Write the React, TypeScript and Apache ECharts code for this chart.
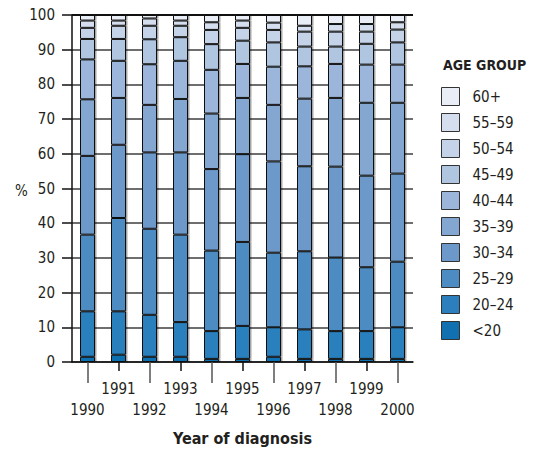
import React, { useEffect, useRef } from "react";
import * as echarts from "echarts";

const years = ["1990", "1991", "1992", "1993", "1994", "1995", "1996", "1997", "1998", "1999", "2000"];
const ageGroups = ["<20", "20–24", "25–29", "30–34", "35–39", "40–44", "45–49", "50–54", "55–59", "60+"];
const colors = ["#1070b0", "#2c7fbd", "#4d8bc3", "#6c99c9", "#84a7d2", "#9bb6da", "#b0c5e0", "#c5d3e9", "#d5deee", "#e9edf6"];

const under20 = [1.5, 2.1, 1.5, 1.5, 0.9, 0.9, 1.5, 0.9, 0.9, 0.9, 0.9];
const age20to24 = [13.1, 12.5, 12.1, 10.0, 8.0, 9.5, 8.5, 8.5, 8.0, 8.0, 9.1];
const age25to29 = [22.1, 26.9, 24.8, 25.2, 23.2, 24.2, 21.5, 22.5, 21.2, 18.4, 18.9];
const age30to34 = [22.7, 21.1, 22.0, 23.7, 23.5, 25.3, 26.3, 24.5, 26.2, 26.4, 25.4];
const age35to39 = [16.3, 13.5, 13.7, 15.4, 16.0, 16.2, 16.3, 19.5, 19.8, 21.0, 20.4];
const age40to44 = [11.5, 10.7, 11.7, 11.0, 12.6, 9.8, 11.0, 9.3, 9.8, 11.0, 11.0];
const age45to49 = [5.9, 6.3, 7.2, 6.8, 7.4, 6.7, 7.0, 5.7, 5.0, 6.0, 6.4];
const age50to54 = [3.2, 3.8, 3.9, 3.3, 4.1, 3.7, 3.6, 4.3, 4.3, 3.5, 3.7];
const age55to59 = [2.1, 1.5, 2.1, 1.5, 2.2, 2.1, 2.1, 1.7, 2.2, 2.2, 2.1];
const age60plus = [1.6, 1.6, 1.0, 1.6, 2.1, 1.6, 2.2, 3.1, 2.6, 2.6, 2.1];

const seriesValues = [under20, age20to24, age25to29, age30to34, age35to39, age40to44, age45to49, age50to54, age55to59, age60plus];

const yTicks = { min: 0, max: 100, interval: 10 };

const FONT = "'DejaVu Sans', sans-serif";

export default function App() {
  const ref = useRef<HTMLDivElement>(null);
  useEffect(() => {
    document.body.style.margin = "0";
    const st = document.createElement("style");
    st.textContent = "svg text { font-stretch: condensed !important; }";
    document.head.appendChild(st);
    const chart = echarts.init(ref.current!, null, { renderer: "svg" });
    const gridColors = Array.from({ length: 11 }, (_, i) => (i === 10 ? "#111" : "#6e6e6e"));
    chart.setOption({
      animation: false,
      textStyle: { fontFamily: FONT, color: "#231f20" },
      title: {
        text: "AGE GROUP",
        left: 443,
        top: 58,
        padding: 0,
        textStyle: { fontFamily: FONT, fontSize: 14, fontWeight: "bold", color: "#231f20" },
      },
      legend: {
        orient: "vertical",
        left: 441,
        top: 87,
        padding: 0,
        itemWidth: 18,
        itemHeight: 18,
        itemGap: 7,
        icon: "rect",
        data: [...ageGroups].reverse(),
        textStyle: { fontFamily: FONT, fontSize: 15, color: "#231f20", padding: [0, 0, 0, 8] },
        itemStyle: { borderColor: "#333", borderWidth: 1, shadowBlur: 0, shadowOffsetX: 0, shadowColor: "transparent" },
      },
      graphic: [
        { type: "text", left: 15, top: 183, style: { text: "%", font: `15px ${FONT}`, fill: "#231f20" } },
      ],
      grid: { left: 72, right: 120, top: 15, bottom: 87, containLabel: false },
      xAxis: [
        {
          type: "category",
          data: years,
          position: "bottom",
          boundaryGap: true,
          axisLine: { show: true, lineStyle: { color: "#111", width: 1.5 } },
          axisTick: { show: true, alignWithLabel: true, length: 21, interval: (i: number) => i % 2 === 0, lineStyle: { color: "#555", width: 1.5 } },
          axisLabel: { interval: (i: number) => i % 2 === 0, margin: 40, fontSize: 15, color: "#231f20", fontFamily: FONT },
          name: "Year of diagnosis",
          nameLocation: "middle",
          nameGap: 68,
          nameTextStyle: { fontFamily: FONT, fontSize: 16, fontWeight: "bold", color: "#231f20" },
        },
        {
          type: "category",
          data: years,
          position: "bottom",
          boundaryGap: true,
          axisLine: { show: false },
          axisTick: { show: true, alignWithLabel: true, length: 9, interval: (i: number) => i % 2 === 1, lineStyle: { color: "#111", width: 1.5 } },
          axisLabel: { interval: (i: number) => i % 2 === 1, margin: 19, fontSize: 15, color: "#231f20", fontFamily: FONT },
        },
      ],
      yAxis: {
        type: "value",
        min: yTicks.min,
        max: yTicks.max,
        interval: yTicks.interval,
        axisLine: { show: true, lineStyle: { color: "#111", width: 1.5 } },
        axisTick: { show: true, length: 10, lineStyle: { color: "#111", width: 1.5 } },
        axisLabel: { margin: 17, fontSize: 15, color: "#231f20", fontFamily: FONT },
        splitLine: { show: true, lineStyle: { color: gridColors, width: 1.8 } },
      },
      series: ageGroups.map((name, k) => ({
        name,
        type: "bar",
        stack: "total",
        xAxisIndex: 0,
        barWidth: 15,
        data: seriesValues[k],
        itemStyle: {
          color: colors[k],
          borderColor: "#111",
          borderWidth: 1,
          shadowColor: "rgba(0,0,0,0.35)",
          shadowOffsetX: 1.5,
          shadowBlur: 0,
        },
        emphasis: { disabled: true },
      })),
    });
    return () => {
      chart.dispose();
      st.remove();
    };
  }, []);
  return <div ref={ref} style={{ width: 533, height: 451 }} />;
}
